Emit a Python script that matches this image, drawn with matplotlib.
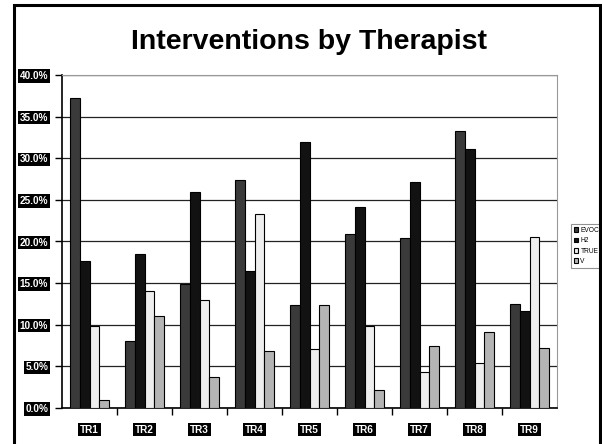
import numpy as np
import matplotlib.pyplot as plt
from matplotlib.patches import Rectangle
from matplotlib.ticker import FuncFormatter

therapists = ["TR1", "TR2", "TR3", "TR4", "TR5", "TR6", "TR7", "TR8", "TR9"]
evoc = [37.2, 8.1, 14.9, 27.4, 12.4, 20.9, 20.4, 33.3, 12.5]
h2 = [17.7, 18.5, 25.9, 16.4, 31.9, 24.1, 27.2, 31.1, 11.6]
true_ = [9.8, 14.1, 13.0, 23.3, 7.1, 9.9, 4.3, 5.4, 20.6]
v = [1.0, 11.1, 3.7, 6.9, 12.4, 2.2, 7.4, 9.1, 7.2]

series = [("EVOC", evoc, "#3a3a3a"), ("H2", h2, "#121212"),
          ("TRUE", true_, "#eeeeee"), ("V", v, "#b4b4b4")]

plt.rcParams["font.family"] = ["Liberation Sans", "DejaVu Sans"]

fig = plt.figure(figsize=(6.02, 4.44), dpi=100)
ax = fig.add_axes([62 / 602, 1 - 408 / 444, 495 / 602, 333 / 444])

x = np.arange(len(therapists))
w = 0.18
for i, (name, vals, col) in enumerate(series):
    ax.bar(x + (i - 1.5) * w, vals, w, color=col, edgecolor="black",
           linewidth=0.8, label=name, zorder=3)

ax.set_xlim(-0.5, len(therapists) - 0.5)
ax.set_ylim(0, 40)
ax.set_yticks(np.arange(0, 41, 5))
ax.yaxis.set_major_formatter(FuncFormatter(lambda y, p: f"{y:.1f}%"))
ax.grid(axis="y", color="#222222", linewidth=0.9, zorder=0)

# kategorie-labels onder de assen, tickjes tussen de groepen
ax.set_xticks(x)
ax.set_xticks(np.arange(0.5, len(therapists) - 0.5, 1), minor=True)
ax.tick_params(axis="x", which="major", length=0, pad=12)
ax.tick_params(axis="x", which="minor", length=5, width=1, direction="out")
ax.tick_params(axis="y", length=5, width=1, direction="out", pad=5)
ax.set_xticklabels(therapists)

for lab in ax.get_xticklabels() + ax.get_yticklabels():
    lab.set_fontsize(7.2)
    lab.set_fontweight("bold")
    lab.set_color("white")
    lab.set_bbox(dict(facecolor="black", edgecolor="none", pad=1.2))

ax.spines["left"].set_color("black")
ax.spines["left"].set_linewidth(1.2)
ax.spines["bottom"].set_color("black")
ax.spines["bottom"].set_linewidth(1.2)
ax.spines["top"].set_color("#999999")
ax.spines["right"].set_color("#999999")

fig.text(309 / 602, 1 - 42 / 444, "Interventions by Therapist",
         ha="center", va="center", fontsize=20.5, fontweight="bold")

leg = ax.legend(loc="center left", bbox_to_anchor=(571 / 602, 1 - 246 / 444),
                bbox_transform=fig.transFigure, fontsize=4.8, frameon=True,
                fancybox=False, edgecolor="#777777", handlelength=0.7,
                handleheight=0.7, handletextpad=0.3, borderpad=0.4,
                labelspacing=0.5, borderaxespad=0)
leg.get_frame().set_linewidth(0.8)

# zwarte rand rond de hele figuur
fig.patches.append(Rectangle((14 / 602, -0.05), 586 / 602, 1.05 - 5 / 444,
                             transform=fig.transFigure, fill=False,
                             edgecolor="black", linewidth=2.2))

fig.savefig("out.png", dpi=100)
